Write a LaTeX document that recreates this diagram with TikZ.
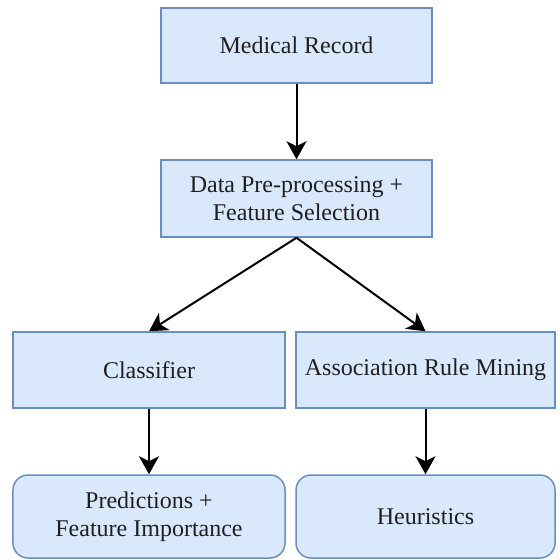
\documentclass[tikz,border=0pt]{standalone}
\usepackage{fontspec}
\setmainfont{Liberation Serif}
\usepackage{tikz}
\usepackage{xcolor}
\definecolor{boxfillcolor}{HTML}{DAE8FC}
\definecolor{boxdrawcolor}{HTML}{6C8EBF}
\colorlet{boxtextcolor}{black!88}
\usetikzlibrary{
  arrows.meta,
  shapes,
}
\tikzstyle{basicblock}=[draw=boxdrawcolor, line width=0.75pt, fill=boxfillcolor, text=boxtextcolor, inner sep=0pt, align=center, font=\fontsize{12}{14}\selectfont]
\tikzstyle{stageblock}=[basicblock, rectangle, minimum width=135.5pt, minimum height=38pt]
\tikzstyle{methodblock}=[basicblock, rectangle, minimum height=38pt]
\tikzstyle{resultblock}=[basicblock, rectangle, rounded corners=7.5pt, minimum height=41.5pt]
\tikzstyle{flowarrow}=[-{Stealth[length=9pt,width=10pt,inset=2.5pt]}, line width=1pt, black]

\begin{document}
\begin{tikzpicture}
	\useasboundingbox (-148.25pt,22.75pt) rectangle (131.25pt,-257.25pt);
	\node (record) [stageblock, minimum height=37.5pt] {Medical Record};
	\path (record) + (0,-76.5pt) node (preprocessing) [stageblock, minimum height=38.5pt] {Data Pre-processing +\\Feature Selection};
	\path (record) + (-73.75pt,-162.25pt) node (classifier) [methodblock, minimum width=136pt] {Classifier};
	\path (record) + (64.5pt,-162.25pt) node (rulemining) [methodblock, minimum width=129.5pt] {Association Rule Mining};
	\path (classifier) + (0,-73.25pt) node (predictions) [resultblock, minimum width=136pt] {Predictions +\\Feature Importance};
	\path (rulemining) + (0,-73.25pt) node (heuristics) [resultblock, minimum width=129.5pt] {Heuristics};
	\draw [flowarrow] (record) -- (preprocessing);
	\draw [flowarrow] (preprocessing.south) -- (classifier.north);
	\draw [flowarrow] (preprocessing.south) -- (rulemining.north);
	\draw [flowarrow] (classifier) -- (predictions);
	\draw [flowarrow] (rulemining) -- (heuristics);
\end{tikzpicture}
\end{document}
